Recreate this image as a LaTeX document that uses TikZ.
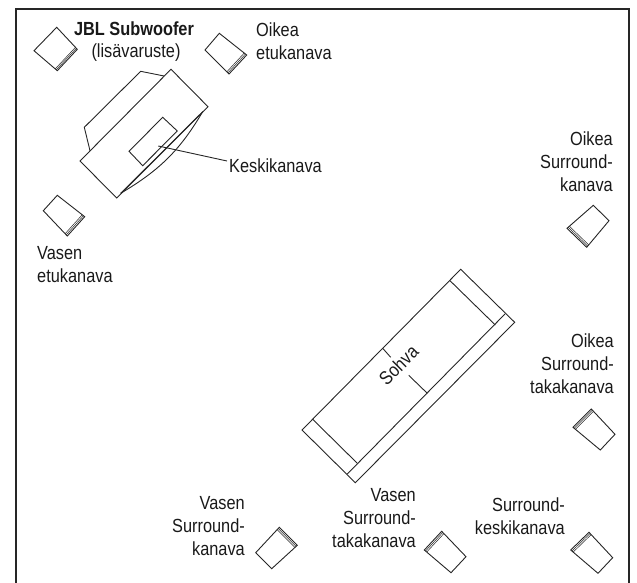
\documentclass[tikz,border=0pt]{standalone}
\usepackage{fontspec}
\setmainfont[FakeStretch=0.86]{Liberation Sans}
\usetikzlibrary{calc}
\tikzset{
  thinline/.style={line width=0.9pt,line join=miter,draw=black!85},
  framebar/.style={line width=2.6pt,draw=black!85},
  lbl/.style={inner sep=0pt,font=\fontsize{19}{23}\selectfont,text=black!90},
  lblr/.style={lbl,align=right,anchor=east},
  lbll/.style={lbl,align=left,anchor=west},
  lblc/.style={lbl,align=center}
}
% #1,#2: corners of the edge with the page lines; #3,#4: the corners opposite #2,#1
\newcommand{\spkr}[4]{
  \draw[thinline] #1 -- #2 -- #3 -- #4 -- cycle;
  \draw[thinline,line width=0.5pt] ($#1!0.045!#4$) -- ($#2!0.045!#3$);
  \draw[thinline,line width=0.5pt] ($#1!0.09!#4$) -- ($#2!0.09!#3$);
}
\begin{document}
\begin{tikzpicture}[x=1pt,y=-1pt]
\useasboundingbox (0,0) rectangle (637,583);
\draw[framebar] (16,583) -- (16,9) -- (629,9) -- (629,583);
% speakers
\spkr{(77.3,49.3)}{(57.3,70.7)}{(34,50.7)}{(56.7,27.3)}
\spkr{(246.7,55)}{(229,74)}{(205,50)}{(219.3,33.3)}
\spkr{(84.7,216.7)}{(67.3,236)}{(43.3,210.7)}{(57.3,195.3)}
\spkr{(279.3,527.3)}{(297.3,545.3)}{(271.7,568.7)}{(255.7,552.7)}
\spkr{(441.7,531.3)}{(424.3,550)}{(451,572.7)}{(466,556.7)}
\spkr{(589,532.3)}{(570.7,550)}{(598,573.3)}{(612.7,557.7)}
\spkr{(567,228.3)}{(586.7,247.3)}{(609,220.7)}{(593.3,205.3)}
\spkr{(591.3,409)}{(573,427.3)}{(600.3,450)}{(615,434.3)}
% centre speaker
\draw[thinline] (171,69.3) -- (208,106.7) -- (116.7,198) -- (80,161) -- cycle;
\draw[thinline] (90,150.7) -- (84.3,127.3) -- (140.7,71.3) -- (164,76);
\draw[thinline] (202.7,111.7) -- (120.7,193.3);
\draw[thinline] (202.7,111.7) .. controls (180,150) and (160,170) .. (120.7,193.3);
\draw[thinline,fill=white] (162.7,117.3) -- (177.3,131) -- (142.7,165.7) -- (129,151.3) -- cycle;
\node[lbll] (kes) at (229,166) {Keskikanava};
\coordinate (kesend) at (158.3,146);
\draw[thinline] (kes.west) ++(-2,-5) -- (kesend);
% sofa
\draw[thinline] (460.7,269.3) -- (514.7,322.3) -- (355.3,482.7) -- (302,430) -- cycle;
\draw[thinline] (505,314) -- (347.3,474);
\draw[thinline] (450,280.7) -- (495.3,325);
\draw[thinline] (312.7,419.3) -- (357.3,463.3);
\draw[thinline] (382.7,348.3) -- (390.7,357.3);
\draw[thinline] (408.7,375.3) -- (427.3,393.3);
\node[lbl,rotate=45] (sohva) at (398.5,365) {Sohva};
% labels
\node[lblc,font=\fontsize{19}{23}\selectfont\bfseries] (jbl) at (134,29) {JBL Subwoofer};
\node[lblc] (lis) at (136,53) {(lisävaruste)};
\node[lbll] (oe) at (256,41.5) {Oikea\\etukanava};
\node[lbll] (ve) at (37,264.5) {Vasen\\etukanava};
\node[lblr] (os) at (613,162) {Oikea\\Surround-\\kanava};
\node[lblr] (ost) at (614,363.5) {Oikea\\Surround-\\takakanava};
\node[lblr] (vs) at (245,526) {Vasen\\Surround-\\kanava};
\node[lblr] (vst) at (416,518) {Vasen\\Surround-\\takakanava};
\node[lblr] (sk) at (565,516.5) {Surround-\\keskikanava};
\end{tikzpicture}
\end{document}
